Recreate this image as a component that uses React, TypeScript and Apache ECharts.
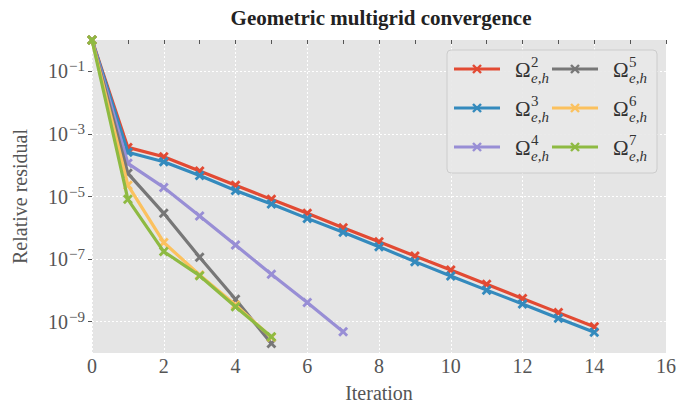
import React, { useEffect, useRef } from 'react';
import * as echarts from 'echarts';

const iterations = [0, 1, 2, 3, 4, 5, 6, 7, 8, 9, 10, 11, 12, 13, 14];
const omega2 = [1, 3.7e-4, 1.86e-4, 6.5e-5, 2.3e-5, 8.1e-6, 2.9e-6, 1.0e-6, 3.6e-7, 1.26e-7, 4.5e-8, 1.58e-8, 5.5e-9, 1.95e-9, 6.9e-10];
const omega3 = [1, 2.6e-4, 1.29e-4, 4.7e-5, 1.55e-5, 5.8e-6, 2.0e-6, 7.2e-7, 2.5e-7, 8.3e-8, 2.9e-8, 1.02e-8, 3.7e-9, 1.29e-9, 4.6e-10];
const omega4 = [1, 1.15e-4, 1.95e-5, 2.4e-6, 2.8e-7, 3.3e-8, 4.1e-9, 4.8e-10];
const omega5 = [1, 5.5e-5, 2.9e-6, 1.15e-7, 5.2e-9, 2.0e-10];
const omega6 = [1, 2.3e-5, 3.4e-7, 3.1e-8, 3.4e-9, 3.2e-10];
const omega7 = [1, 8.1e-6, 1.74e-7, 2.95e-8, 3.0e-9, 3.3e-10];

const levels = ['2', '3', '4', '5', '6', '7'];
const seriesValues = [omega2, omega3, omega4, omega5, omega6, omega7];
const colors = ['#E24A33', '#348ABD', '#988ED5', '#777777', '#FBC15E', '#8EBA42'];
const yLabelExponents = [-9, -7, -5, -3, -1];

const FONT = 'Liberation Serif, Times New Roman, serif';
const XMARK = 'path://M2,0L5,3L8,0L10,2L7,5L10,8L8,10L5,7L2,10L0,8L3,5L0,2Z';

function buildLegend() {
  const els: any[] = [
    {
      type: 'rect',
      shape: { x: 447, y: 50, width: 210, height: 123, r: 4 },
      style: { fill: 'rgba(232,232,232,0.9)', stroke: '#CCCCCC', lineWidth: 1 },
      z: 100,
    },
  ];
  const rowsY = [69, 108, 147];
  const colX = [454, 552];
  levels.forEach((lv, i) => {
    const col = Math.floor(i / 3);
    const row = i % 3;
    const x0 = colX[col];
    const y = rowsY[row];
    const c = colors[i];
    els.push({ type: 'line', shape: { x1: x0, y1: y, x2: x0 + 46, y2: y }, style: { stroke: c, lineWidth: 3.2 }, z: 101 });
    const mx = x0 + 23;
    els.push({ type: 'line', shape: { x1: mx - 4, y1: y - 4, x2: mx + 4, y2: y + 4 }, style: { stroke: c, lineWidth: 2.4 }, z: 102 });
    els.push({ type: 'line', shape: { x1: mx - 4, y1: y + 4, x2: mx + 4, y2: y - 4 }, style: { stroke: c, lineWidth: 2.4 }, z: 102 });
    const tx = x0 + 61;
    els.push({ type: 'text', x: tx, y: y + 1, style: { text: 'Ω', fontFamily: FONT, fontSize: 21, fill: '#333', verticalAlign: 'middle' }, z: 103 });
    els.push({ type: 'text', x: tx + 16, y: y - 7, style: { text: lv, fontFamily: FONT, fontSize: 15, fill: '#333', verticalAlign: 'middle' }, z: 103 });
    els.push({ type: 'text', x: tx + 16, y: y + 9, style: { text: 'e,h', fontFamily: FONT, fontStyle: 'italic', fontSize: 15, fill: '#333', verticalAlign: 'middle' }, z: 103 });
  });
  return els;
}

export default function App() {
  const ref = useRef<HTMLDivElement>(null);
  useEffect(() => {
    const chart = echarts.init(ref.current!, null, { renderer: 'svg' });
    const gridLineStyle = { color: '#FFFFFF', width: 1, type: [2, 2] };
    const option: any = {
      animation: false,
      backgroundColor: '#FFFFFF',
      textStyle: { fontFamily: FONT },
      title: {
        text: 'Geometric multigrid convergence',
        left: 376,
        top: 2,
        textAlign: 'center',
        textStyle: { fontFamily: FONT, fontWeight: 'bold', fontSize: 21, color: '#222' },
      },
      grid: { left: 92, right: 12, top: 40, bottom: 57, show: true, backgroundColor: '#E5E5E5', borderWidth: 0 },
      xAxis: [
        {
          type: 'value', min: 0, max: 16, interval: 2, position: 'bottom',
          name: 'Iteration', nameLocation: 'middle', nameGap: 30,
          nameTextStyle: { fontFamily: FONT, fontSize: 20, color: '#555' },
          axisLine: { show: false }, axisTick: { show: false },
          axisLabel: { fontFamily: FONT, fontSize: 20, color: '#555', margin: 3 },
          splitLine: { show: true, lineStyle: gridLineStyle },
        },
        {
          type: 'value', min: 0, max: 16, interval: 1, position: 'top',
          axisLine: { show: false },
          axisTick: { show: true, inside: true, length: 4, lineStyle: { color: '#555', width: 1 } },
          axisLabel: { show: false }, splitLine: { show: false },
        },
      ],
      yAxis: [
        {
          type: 'value', min: -10, max: 0, interval: 1, position: 'left',
          name: 'Relative residual', nameLocation: 'middle', nameGap: 62,
          nameTextStyle: { fontFamily: FONT, fontSize: 20, color: '#555' },
          axisLine: { show: false },
          axisTick: { show: false },
          axisLabel: {
            customValues: yLabelExponents,
            margin: 7,
            fontFamily: FONT,
            formatter: (v: number) => `{b|10}{s|−${Math.abs(v)}}`,
            rich: {
              b: { fontFamily: FONT, fontSize: 20, color: '#555' },
              s: { fontFamily: FONT, fontSize: 15, color: '#555', padding: [0, 0, 10, 1] },
            },
          },
          splitLine: { show: false },
        },
        {
          type: 'value', min: -10, max: 0, interval: 1, position: 'right',
          axisLine: { show: false },
          axisTick: { show: true, inside: true, length: 4, customValues: yLabelExponents, lineStyle: { color: '#555', width: 1 } },
          axisLabel: { show: false }, splitLine: { show: false },
        },
      ],
      series: [
        {
          type: 'line',
          name: 'grid',
          data: [],
          silent: true,
          z: 1,
          markLine: {
            silent: true,
            z: 1,
            symbol: 'none',
            label: { show: false },
            lineStyle: gridLineStyle,
            data: yLabelExponents.map((e) => ({ yAxis: e })),
          },
        },
        ...seriesValues.map((vals, i) => ({
          type: 'line',
          name: 'Ω' + levels[i],
          xAxisIndex: 0,
          yAxisIndex: 0,
          data: vals.map((v, j) => [iterations[j], Math.log10(v)]),
          symbol: XMARK,
          symbolSize: 10,
          showAllSymbol: true,
          lineStyle: { color: colors[i], width: 3.2 },
          itemStyle: { color: colors[i] },
          z: 2 + i,
        })),
      ],
      graphic: buildLegend(),
    };
    chart.setOption(option);
    return () => chart.dispose();
  }, []);
  return <div ref={ref} style={{ position: 'fixed', left: 0, top: 0, width: 679, height: 410 }} />;
}
